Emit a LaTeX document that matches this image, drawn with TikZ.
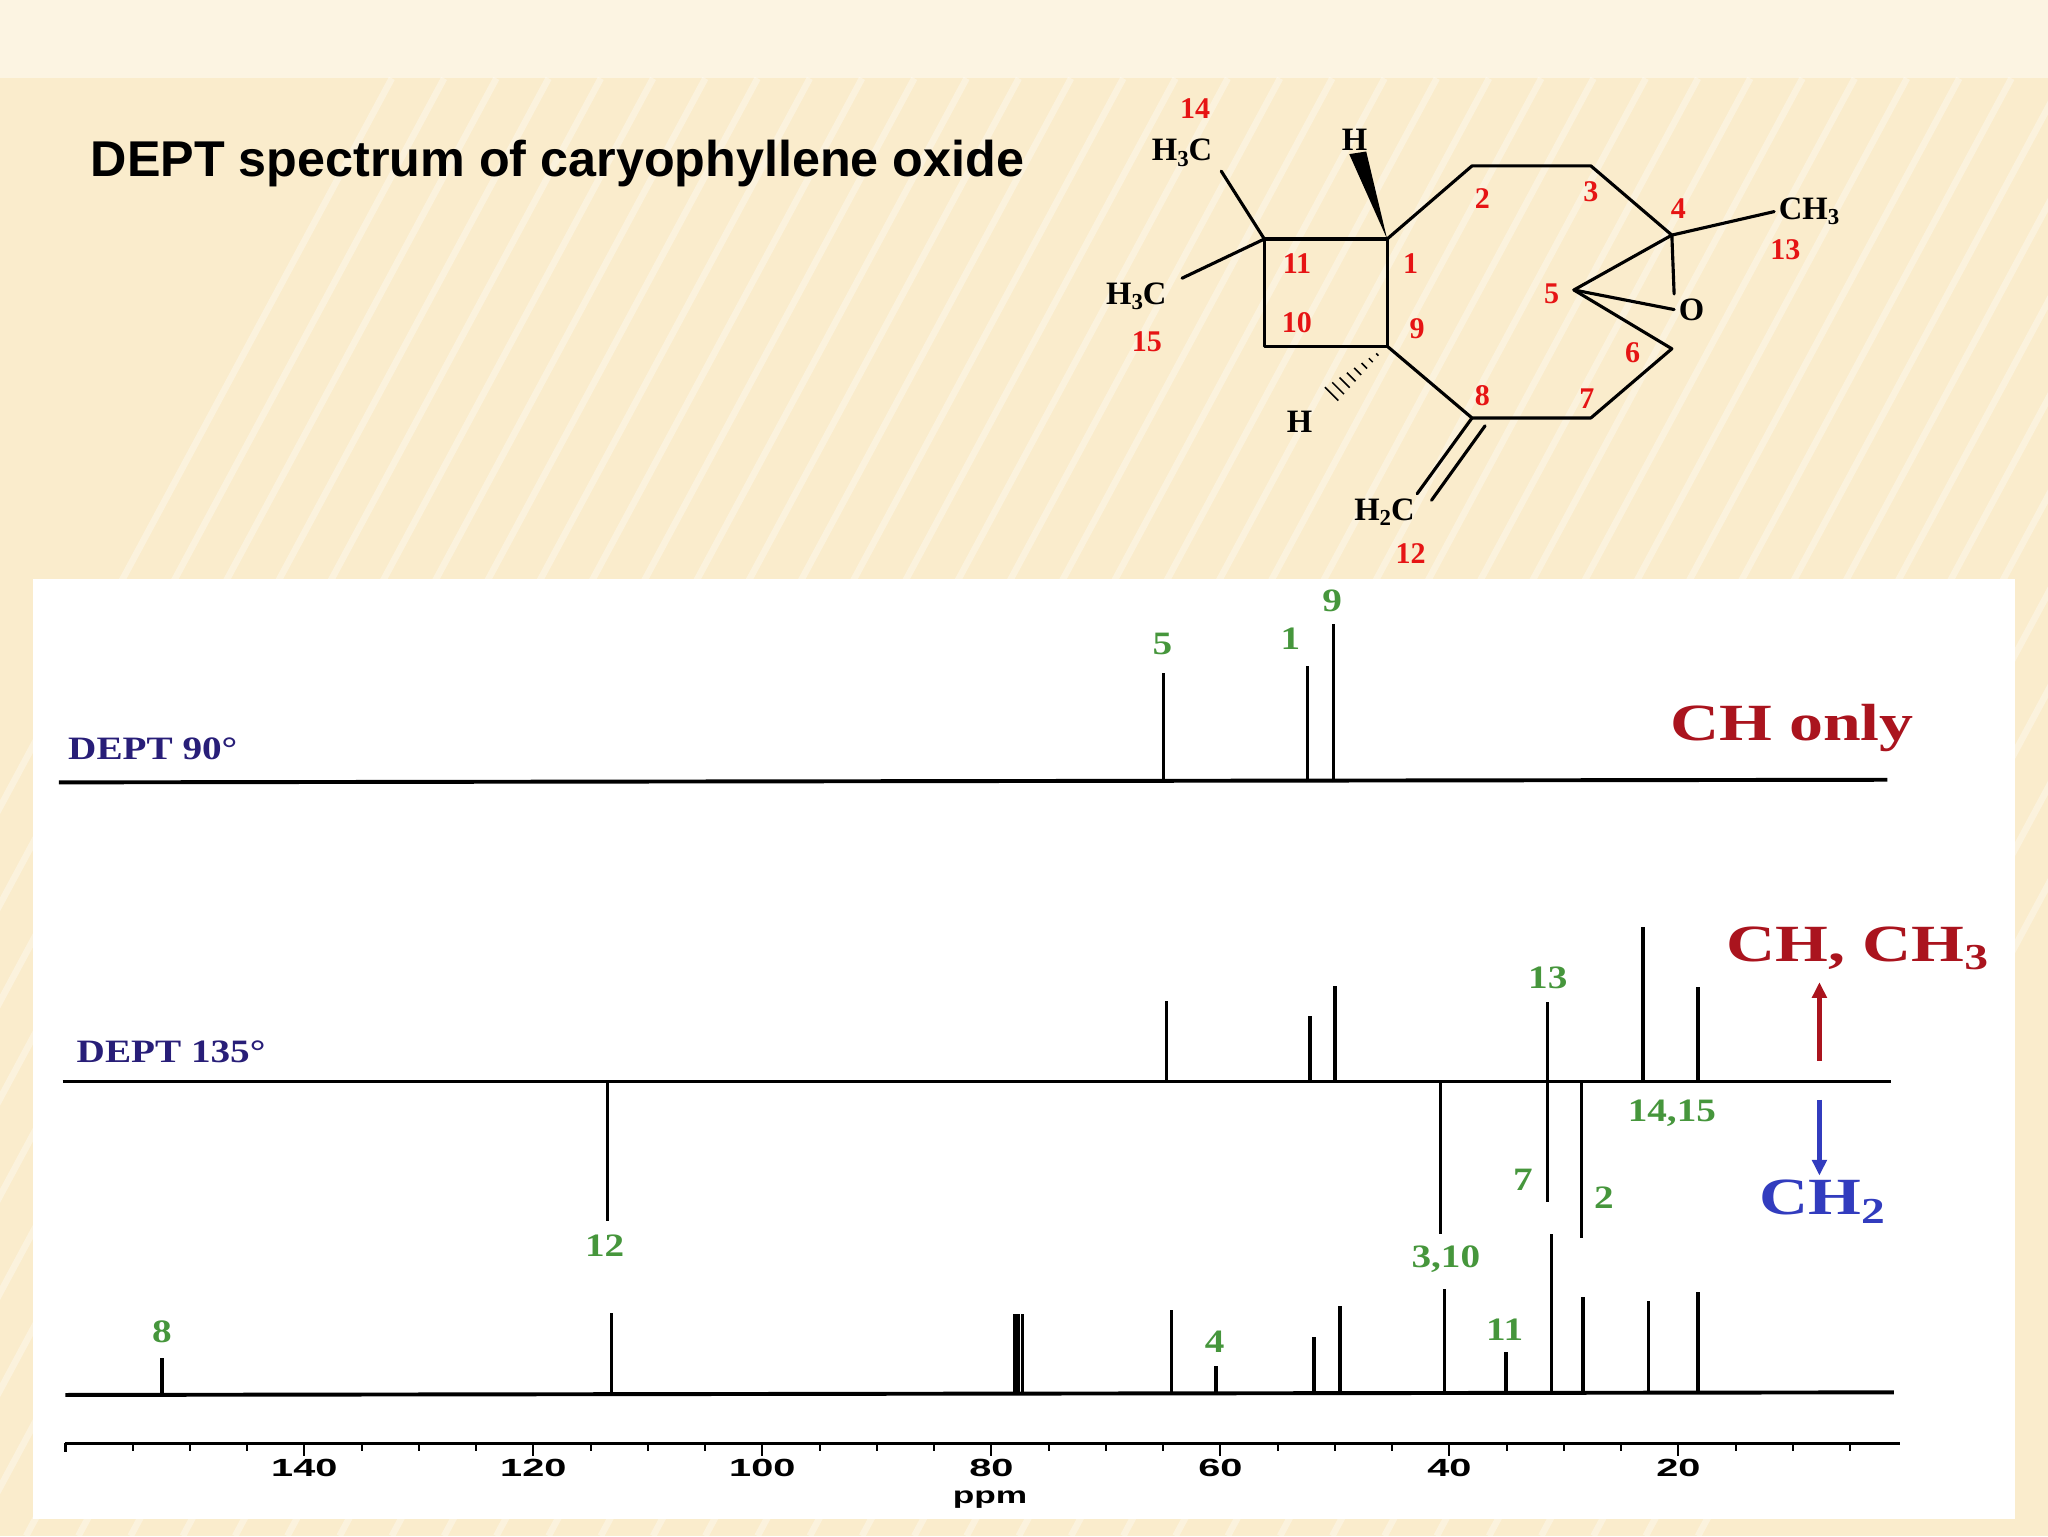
\documentclass[tikz,border=0pt]{standalone}
\usepackage{fontspec}
\setmainfont{Liberation Serif}
\setsansfont{Liberation Sans}
\usetikzlibrary{arrows.meta,calc}
\definecolor{bgc}{RGB}{250,236,204}
\definecolor{bgt}{RGB}{252,244,226}
\definecolor{grn}{RGB}{70,150,60}
\definecolor{dred}{RGB}{170,20,30}
\definecolor{dblue}{RGB}{40,30,120}
\definecolor{cblue}{RGB}{50,60,190}
\definecolor{nred}{RGB}{230,20,20}
\newcommand{\sbs}[1]{\raisebox{-0.35ex}{\scalebox{0.7}{#1}}}
\tikzset{
 mol/.style={line width=2.4pt,line cap=round,line join=round},
 at2/.style={font=\bfseries\fontsize{25}{26}\selectfont},
 num/.style={text=nred,font=\bfseries\fontsize{23}{24}\selectfont},
 gl/.style={text=grn,font=\bfseries\fontsize{25}{26}\selectfont},
 base/.style={line width=3pt},
 pk/.style={line width=2.6pt},
 dl/.style={text=dblue,font=\bfseries\fontsize{25}{26}\selectfont},
 big/.style={font=\bfseries\fontsize{40}{42}\selectfont},
}
\begin{document}
\begin{tikzpicture}[x=1pt,y=-1pt]
\useasboundingbox (0,0) rectangle (1568,1176);
\fill[bgc] (0,0) rectangle (1568,1176);
\fill[bgt] (0,0) rectangle (1568,60);
\foreach \i in {0,...,40}{\draw[white,opacity=0.35,line width=5pt] (\i*40-300,1176) -- (\i*40+300,60);}
\node[anchor=west,font=\sffamily\bfseries\fontsize{38.5}{40}\selectfont] (title) at (66,125) {DEPT spectrum of caryophyllene oxide};
% molecule
\coordinate (c11) at (968,183); \coordinate (c1) at (1062,183);
\coordinate (c9) at (1062,265); \coordinate (c10) at (968,265);
\coordinate (c2) at (1127,127); \coordinate (c3) at (1218,127);
\coordinate (c4) at (1280,180); \coordinate (c5) at (1205,222);
\coordinate (c6) at (1280,267); \coordinate (c7) at (1218,320);
\coordinate (c8) at (1127,320);
\node[at2] (o) at (1295,237) {O};
\node[at2] (m14) at (905,117) {H\sbs{3}C};
\node[at2] (m15) at (870,227) {H\sbs{3}C};
\node[at2] (m13) at (1385,162) {CH\sbs{3}};
\node[at2] (m12) at (1060,392) {H\sbs{2}C};
\node[at2] (h1) at (1037,107) {H};
\node[at2] (h9) at (995,323) {H};
\draw[mol] (c11)--(c1)--(c9)--(c10)--cycle;
\draw[mol] (c1)--(c2)--(c3)--(c4)--(c5)--(c6)--(c7)--(c8)--(c9);
\draw[mol] (c5)--(o.west) (o.north west)--(c4)--(m13.west);
\draw[mol] (c11)--(935,131) (c11)--(905,213);
\draw[mol] (c8)--(1085,378);
\draw[mol] ($(c8)+(10,6)$)--(1096,383);
\fill (c1)--(1033,118)--(1046,116)--cycle;
\foreach \t in {0.15,0.25,...,0.95}{\draw[line width=1.2pt] ($(c9)!\t!(1012,308)+(-\t*6,-\t*6)$)--($(c9)!\t!(1012,308)+(\t*6,\t*6)$);}
\foreach \n/\x/\y in {14/915/83,11/993/202,1/1080/202,10/993/247,9/1085/252,2/1135/152,3/1218/147,4/1285/160,13/1367/191,5/1188/225,6/1250/270,7/1215/305,8/1135/303,12/1080/424,15/878/262}
 \node[num] at (\x,\y) {\n};
% spectrum panel
\fill[white] (25,443) rectangle (1543,1163);
\draw[base] (45,599)--(1445,597);
\draw[base] (48,828)--(1448,828);
\draw[base] (50,1068)--(1450,1066);
\foreach \x/\t in {891/515,1001/510,1021/478}{\draw[pk] (\x,599)--(\x,\t);}
\foreach \x/\t in {893/766,1003/778,1022/755,1185/767,1258/710,1300/756}{\draw[pk] (\x,828)--(\x,\t);}
\foreach \x/\t in {465/935,1103/945,1185/920,1211/948}{\draw[pk] (\x,828)--(\x,\t);}
\foreach \x/\t in {124/1040,468/1005,777/1006,780/1006,783/1006,897/1003,931/1046,1006/1024,1026/1000,1106/987,1153/1035,1188/945,1212/993,1262/996,1300/989}{\draw[pk] (\x,1067)--(\x,\t);}
\foreach \l/\x/\y in {5/890/493,1/988/489,9/1020/460,13/1185/749,{14,15}/1280/852,7/1166/903,2/1228/917,12/463/954,{3,10}/1107/964,8/124/1020,4/930/1027,11/1152/1018}
 \node[gl] at (\x,\y) {\scalebox{1.2}[1]{\l}};
\node[dl] (d90) at (117,573) {\scalebox{1.2}[1]{DEPT 90°}};
\node[dl] (d135) at (131,805) {\scalebox{1.2}[1]{DEPT 135°}};
\node[text=dred,big] (cho) at (1372,557) {\scalebox{1.3}[1]{CH only}};
\node[text=dred,big] (chch3) at (1422,726) {\scalebox{1.3}[1]{CH, CH\sbs{3}}};
\node[text=cblue,big] (ch2) at (1395,920) {\scalebox{1.3}[1]{CH\sbs{2}}};
\draw[dred,line width=3.5pt,-{Triangle[length=12pt,width=11pt]}] (1393,812)--(1393,752);
\draw[cblue,line width=3.5pt,-{Triangle[length=12pt,width=11pt]}] (1393,842)--(1393,900);
% axis
\draw[line width=2.5pt] (50,1105)--(1455,1105);
\draw[line width=2pt] (50,1105)--(50,1112);
\foreach \p in {155,150,...,5}{\draw[line width=1.5pt] ({233+(140-\p)*8.767},1105)--({233+(140-\p)*8.767},1111);}
\foreach \p in {140,120,...,20}{\draw[line width=1.5pt] ({233+(140-\p)*8.767},1105)--({233+(140-\p)*8.767},1115);
 \node[font=\sffamily\bfseries\fontsize{19}{20}\selectfont] at ({233+(140-\p)*8.767},1124) {\scalebox{1.6}[1]{\p}};}
\node[font=\sffamily\bfseries\fontsize{18}{20}\selectfont] (ppm) at (758,1148) {\scalebox{1.5}[1]{ppm}};
\end{tikzpicture}
\end{document}
